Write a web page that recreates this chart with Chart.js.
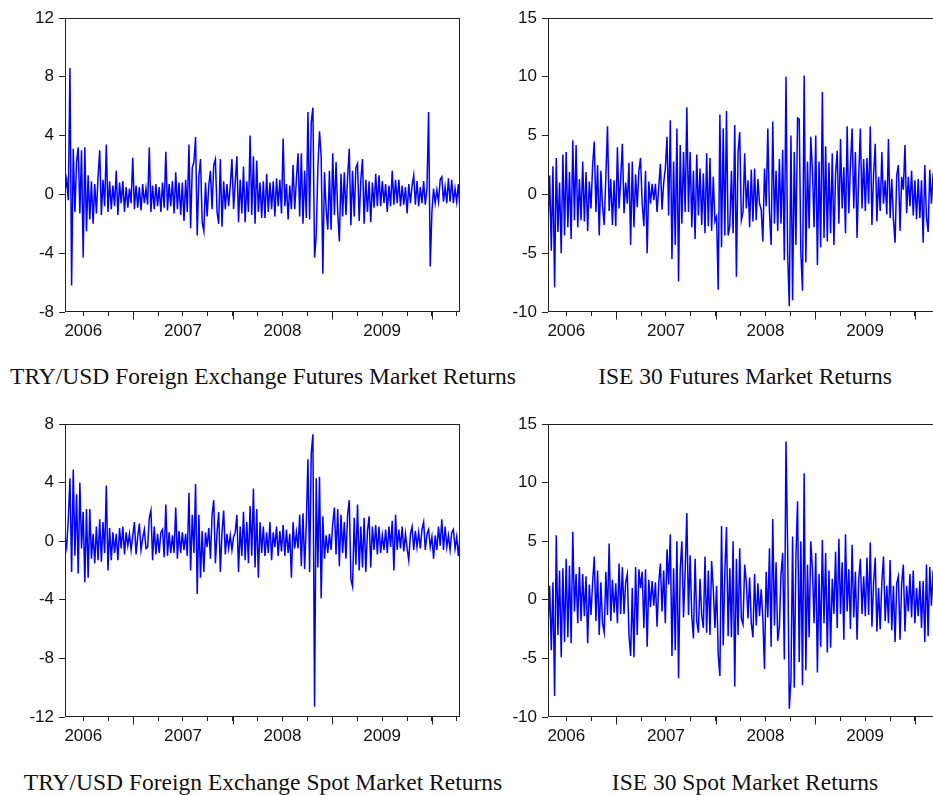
<!DOCTYPE html>
<html>
<head>
<meta charset="utf-8">
<script src="https://cdn.jsdelivr.net/npm/chart.js@4.4.0/dist/chart.umd.min.js"></script>
<style>
  html, body { margin: 0; padding: 0; background: #fff; overflow: hidden; width: 933px; height: 795px; }
  canvas { position: absolute; }
  .caption {
    position: absolute; white-space: nowrap; color: #111;
    font-family: "Liberation Serif", "Times New Roman", serif; font-size: 23.5px; line-height: 1;
    transform: translateX(-50%);
  }
</style>
</head>
<body>
<canvas id="fxFut"></canvas>
<canvas id="iseFut"></canvas>
<canvas id="fxSpot"></canvas>
<canvas id="iseSpot"></canvas>
<div class="caption" style="left:263px; top:365px">TRY/USD Foreign Exchange Futures Market Returns</div>
<div class="caption" style="left:745px; top:365px">ISE 30 Futures Market Returns</div>
<div class="caption" style="left:263px; top:771px">TRY/USD Foreign Exchange Spot Market Returns</div>
<div class="caption" style="left:745px; top:771px">ISE 30 Spot Market Returns</div>
<script>
// year labels on the time axis
const yearLabels = ['2006', '2007', '2008', '2009'];
// first and last observation (in years)
const sampleStart = 2006.316;
const sampleEnd = 2010.282;

// daily returns (%)
const fxFuturesReturns = [
  0.2, 1.0, -0.4, 8.6, -6.2, 3.1, -1.2, 2.2, 3.2, -1.3,
  3.0, -4.3, 3.2, -2.5, 1.3, -1.7, 0.9, -2.0, 0.7, -1.3,
  1.2, 3.0, -1.4, 1.0, -0.8, 3.4, -1.2, 0.9, -1.0, 0.6,
  -0.8, 1.6, -1.4, 0.8, -0.6, 0.9, -1.2, 0.5, -0.9, 0.4,
  -0.6, 2.5, -1.0, 0.6, -0.9, 0.5, -1.1, 0.7, -0.6, 0.4,
  -0.7, 3.2, -1.2, 0.6, -1.0, 0.7, -0.8, 0.5, -1.2, 0.8,
  -0.9, 2.9, -1.1, 0.7, -0.8, 0.9, -1.3, 1.5, -1.0, 0.8,
  -1.4, 0.8, -1.8, 1.0, -1.2, 3.4, -2.3, 1.8, 2.2, 3.9,
  -2.8, 1.2, 2.4, -1.9, -2.5, 0.8, -1.5, 0.6, 1.6, -1.0,
  2.0, 2.4, -1.2, -2.0, 2.4, -2.2, 0.9, -1.0, 0.7, -0.8,
  0.6, 2.4, -1.0, 0.8, 2.6, -1.9, 1.0, -1.3, 1.9, -1.9,
  0.9, -1.2, 4.0, -1.4, 2.6, -2.0, 2.3, -1.2, 0.8, -1.6,
  0.9, -1.6, 1.4, -1.2, 0.8, -1.0, 0.9, -1.5, 1.1, -0.8,
  1.0, -1.3, 3.8, -0.8, 0.7, -1.7, 0.6, -1.0, 2.0, -1.0,
  1.0, 2.8, -1.5, 2.8, -2.0, 1.6, -1.6, 5.6, -1.7, 4.9,
  5.9, -4.3, -2.8, 1.8, 4.3, 2.6, -5.4, 1.5, -1.0, -2.4,
  1.6, -2.4, 2.8, -1.4, 2.2, -1.2, -3.2, 1.4, -1.5, 1.5,
  -1.4, 1.2, 3.1, -2.1, 1.6, -1.5, 1.8, 2.1, -1.8, 1.0,
  2.4, -2.0, 1.0, -1.2, 0.9, -1.9, 0.8, -0.9, 1.4, -0.8,
  1.3, -0.8, 0.9, -0.6, 0.7, -1.2, 0.6, -0.8, 1.6, -0.7,
  1.0, -0.6, 1.0, -0.8, 0.6, -0.7, 0.5, -1.3, 0.7, -0.6,
  0.6, 1.3, -0.7, 0.9, -0.8, 0.5, -0.6, 0.9, -0.7, 0.4,
  5.6, -4.9, -1.2, 0.4, -0.6, 0.3, -0.5, 1.0, 1.2, -0.5,
  0.5, -0.6, 1.1, -0.5, 1.0, -0.6, 0.4, -0.5, 0.7, -1.1
];

const iseFuturesReturns = [
  -2.7, 1.6, -4.8, 2.4, -7.9, 3.1, -3.2, 1.0, -5.0, 3.4,
  -3.5, 3.6, -2.8, 1.9, -3.8, 4.6, -2.2, 4.2, -2.8, 1.3,
  -2.2, 2.8, -2.3, 1.9, -3.1, 1.1, -1.2, 2.5, 4.5, -1.5,
  2.5, -3.5, 2.0, -1.0, -2.6, 1.5, 5.8, -1.4, 1.3, -2.6,
  1.2, -2.7, 4.0, -1.2, 1.3, 4.3, -1.6, 1.0, -0.8, 2.7,
  -4.3, 2.8, -2.8, 1.7, -1.1, 2.0, 3.1, -0.8, -2.7, 2.0,
  -5.0, 1.1, -0.8, 0.9, -0.5, 0.9, -1.5, 0.6, 2.6, -1.3,
  1.0, 2.2, 4.9, -1.8, 6.3, -5.5, 2.8, -4.3, 5.6, -7.4,
  4.2, -2.5, 3.6, -1.5, 7.4, -1.5, 3.6, -2.8, 2.0, -3.8,
  3.4, -1.8, 2.2, -2.6, 1.8, -3.3, 3.5, -2.7, 3.1, -3.1,
  1.5, -2.3, -1.9, -8.1, 6.8, -4.5, 5.6, -3.5, 7.1, -3.5,
  -2.7, 2.0, -3.3, 5.9, -7.0, 3.6, 5.3, -2.2, -1.5, 3.5,
  -1.2, 1.2, -2.8, 2.1, -2.3, 2.2, -2.2, 1.3, -0.8, -1.3,
  -4.0, 2.2, -1.0, 5.6, -1.5, -4.3, 6.2, -2.5, 2.0, -3.1,
  3.0, -2.5, 3.8, -5.6, 10.0, -5.0, -9.5, 5.0, -9.0, 3.6,
  -4.3, 6.5, 6.4, -5.0, -8.2, 10.1, -5.8, 2.8, -2.9, 4.9,
  2.1, -2.8, 5.0, -6.0, 2.8, -4.5, 8.7, -3.7, 4.1, -4.0,
  2.7, -3.3, 3.5, -4.3, 1.8, 3.7, -2.5, 4.7, -1.2, 2.3,
  -3.3, 5.8, -1.6, 2.5, 5.6, -1.2, 3.6, -3.7, 1.5, 5.6,
  -1.2, 3.0, -1.4, 3.1, -0.8, 5.8, -2.6, 1.7, 4.3, -2.3,
  1.5, -1.4, 3.6, -0.8, 1.2, -1.7, 4.7, -2.0, 1.3, -2.1,
  -4.1, 1.6, 2.5, -3.1, 1.5, 0.4, 4.2, -1.6, 1.5, -1.0,
  2.0, -1.8, 1.2, -2.1, 1.3, -2.0, 1.2, -4.1, 2.5, -1.9,
  -3.2, 2.1, -0.8, 1.8
];

const fxSpotReturns = [
  0.3, -0.4, 1.5, 4.3, -2.1, 4.9, -1.0, 3.2, -2.2, 4.0,
  -0.5, 2.0, -2.8, 2.2, -2.5, 2.2, -1.2, 0.5, -1.5, 1.0,
  -1.3, 1.5, -1.4, 1.3, -0.8, 3.8, -2.0, 0.9, -1.3, 0.6,
  -0.8, 0.5, -1.3, 0.9, -0.5, 1.0, -0.9, 0.6, -0.3, 0.5,
  -0.6, 0.4, 1.3, -0.9, 0.3, 1.2, -0.6, 0.2, 0.8, -0.5,
  -0.4, 1.6, 2.1, -1.3, 1.0, -0.9, 0.5, -0.8, 0.6, 0.8,
  -1.1, 2.5, -1.0, 0.6, -0.8, 0.4, -0.8, 2.3, -1.2, 0.7,
  -0.8, 0.6, -0.6, 0.5, -1.0, 3.3, -2.0, 1.8, -0.8, 3.9,
  -3.6, 1.8, -2.5, 0.7, -2.1, 0.6, -0.4, 0.9, -1.2, 1.8,
  2.8, -1.5, 0.6, 2.0, -2.1, 0.6, 2.1, -0.9, 0.5, -0.5,
  0.4, -0.6, 0.3, 0.6, 1.8, -2.1, 1.0, -1.0, 2.0, -1.3,
  1.3, -1.5, 2.4, -1.0, 3.6, -1.8, 2.2, -2.5, 1.3, -0.8,
  1.0, -1.0, 0.6, -0.8, 1.3, -1.3, 0.6, -0.4, 1.0, -1.0,
  0.7, -0.7, 1.1, -1.0, 0.8, -0.8, 0.5, -2.5, 1.3, -0.5,
  0.6, -0.5, 1.8, -1.7, 1.9, -1.9, 1.2, 5.6, -2.1, 6.0,
  7.3, -11.3, 4.3, -1.8, 4.4, -3.9, 1.7, -1.2, 0.4, -0.8,
  0.5, -0.6, 1.2, 2.3, -0.9, 2.2, -1.7, 1.8, -0.8, 1.3,
  -1.2, 1.8, 2.8, -2.6, -3.1, 1.6, -1.6, 2.5, -2.0, 1.0,
  -1.8, 1.6, -2.1, 0.7, 1.7, -1.8, 1.0, -0.6, 1.1, -0.9,
  1.0, -0.8, 0.4, -0.6, 0.8, -0.8, 1.0, -0.4, 1.4, -2.0,
  1.8, -0.6, 0.8, -0.5, 1.0, -0.7, 0.5, -0.5, -1.3, 0.5,
  1.0, -0.6, 0.7, -0.4, 0.6, -0.5, 0.8, 1.3, -0.6, 0.5,
  0.8, -0.4, 0.3, -1.2, 0.4, -0.6, 1.0, -0.3, 1.5, -0.6,
  1.0, -0.4, 0.4, -0.6, 0.6, 0.8, -0.5, 0.3, -1.0, 0.3
];

const iseSpotReturns = [
  -2.4, 1.2, -4.3, 1.5, -8.2, 5.5, -3.0, 2.5, -4.9, 2.7,
  -3.6, 3.5, -3.2, 2.9, -3.7, 5.8, -1.0, 2.2, -2.0, 2.8,
  -1.8, 2.2, -1.4, 2.0, -3.7, 1.3, -1.3, 1.5, 3.7, -1.8,
  2.5, -3.0, 1.5, -2.0, -2.8, 2.4, -1.3, 4.8, -1.8, 1.7,
  -1.1, 1.4, -2.0, 3.1, -1.2, 2.8, -1.2, 1.5, 2.2, -3.0,
  -4.8, 1.0, -4.9, 2.8, -3.0, 2.6, 1.0, 2.4, -2.4, 2.6,
  -4.0, 1.7, -0.6, 1.6, -0.5, 1.5, -2.3, 1.4, 3.1, -1.0,
  2.5, -2.0, 4.3, 1.3, 5.6, -4.8, 2.7, -4.3, 5.0, -6.7,
  2.6, 5.0, -1.5, 2.5, 7.4, -1.3, 3.8, -1.4, -3.3, 3.5,
  -1.8, -2.8, 1.8, -1.3, -2.4, 3.7, -2.8, 2.5, -3.0, 3.3,
  1.0, -2.4, 1.2, -4.7, -6.5, 6.3, -3.9, 2.3, 6.2, -3.1,
  2.7, -3.2, 5.0, -7.4, 3.5, -3.0, 4.4, -1.6, -2.1, 3.0,
  1.5, -1.6, 1.9, -2.0, -3.2, 2.2, -2.2, 1.4, -1.4, 0.9,
  -1.6, -5.9, 2.4, -1.5, 4.4, -4.0, 6.9, -2.2, 3.2, -3.5,
  -2.3, 2.2, 4.0, -5.1, 13.5, 4.4, -9.3, -6.8, 5.4, -7.5,
  3.6, 8.4, -5.3, 5.0, -7.3, 10.8, -6.0, 3.0, -3.2, 5.0,
  2.6, -2.0, 4.0, -6.2, 2.2, -4.0, 5.1, -2.0, 4.0, -4.5,
  2.5, -4.1, 1.8, -1.2, 4.1, -2.4, 5.2, -1.2, 3.2, -3.4,
  5.6, -1.0, 2.6, -2.5, 4.7, -1.5, 2.4, -3.4, 1.7, 3.5,
  -1.2, 2.0, -1.4, 3.6, -1.3, 4.9, -2.3, 1.5, 3.6, -2.7,
  1.0, -2.5, 1.5, 3.7, -1.8, 1.2, -2.0, 3.4, -2.6, 1.2,
  -3.6, 1.4, 2.0, -3.4, 1.4, 3.0, -2.7, 1.2, -1.0, 2.2,
  -1.5, 2.5, -2.0, 1.0, -1.4, 1.6, -2.4, 1.6, -3.6, 3.0,
  -3.1, 2.8, -0.5, 2.5, -0.7
];

// evenly spaced daily observations
const stepYears = (sampleEnd - sampleStart) / (fxFuturesReturns.length - 1);
function toPoints(values) {
  return values.map((v, i) => ({ x: sampleStart + i * stepYears, y: v }));
}

// quarter ticks, with the year label in the middle of each year
const quarterTicks = [];
yearLabels.forEach(y => {
  [0.5, 0.75, 1, 1.25].forEach(q => quarterTicks.push(+y + q));
});

const tickFont = { family: "'Liberation Sans', Arial, sans-serif", size: 17 };

const framePlugin = {
  id: 'frame',
  afterDraw(chart) {
    const { ctx, chartArea: a, scales } = chart;
    ctx.save();
    ctx.strokeStyle = '#222';
    ctx.lineWidth = 1;
    const l = Math.round(a.left) + 0.5, t = Math.round(a.top) + 0.5;
    const r = Math.round(a.right) - 0.5, b = Math.round(a.bottom) - 0.5;
    ctx.strokeRect(l, t, r - l, b - t);
    // longer ticks at the year boundaries
    yearLabels.forEach(y => {
      const px = Math.round(scales.x.getPixelForValue(+y + 1)) + 0.5;
      ctx.beginPath();
      ctx.moveTo(px, b);
      ctx.lineTo(px, b + 8);
      ctx.stroke();
    });
    ctx.restore();
  }
};

function makePanel(id, values, pos, yMin, yMax, yStep) {
  const canvas = document.getElementById(id);
  canvas.width = 470;
  canvas.height = pos.height;
  canvas.style.left = pos.left + 'px';
  canvas.style.top = pos.top + 'px';
  canvas.style.width = '470px';
  canvas.style.height = pos.height + 'px';
  return new Chart(canvas, {
    type: 'line',
    data: {
      datasets: [{
        data: toPoints(values),
        borderColor: '#0000ff',
        borderWidth: 1.5,
        pointRadius: 0,
        tension: 0
      }]
    },
    options: {
      responsive: false,
      animation: false,
      devicePixelRatio: 1,
      layout: { padding: { top: 18, right: 10, left: 0, bottom: 0 } },
      plugins: { legend: { display: false }, tooltip: { enabled: false } },
      scales: {
        x: {
          type: 'linear',
          min: sampleStart,
          max: sampleEnd,
          afterFit: s => { s.height = 33; },
          afterBuildTicks: s => { s.ticks = quarterTicks.map(v => ({ value: v })); },
          border: { display: false },
          grid: { drawOnChartArea: false, tickLength: 4, tickColor: '#222', color: '#222' },
          ticks: {
            autoSkip: false, maxRotation: 0, padding: 5, color: '#111', font: tickFont,
            callback: v => (v % 1 === 0.5 ? String(Math.floor(v)) : '')
          }
        },
        y: {
          min: yMin,
          max: yMax,
          afterFit: s => { s.width = 65; },
          border: { display: false },
          grid: { drawOnChartArea: false, tickLength: 6, tickColor: '#222', color: '#222' },
          ticks: { stepSize: yStep, padding: 5, color: '#111', font: tickFont }
        }
      }
    },
    plugins: [framePlugin]
  });
}

makePanel('fxFut', fxFuturesReturns, { left: 0, top: 0, height: 345 }, -8, 12, 4);
makePanel('iseFut', iseFuturesReturns, { left: 483, top: 0, height: 345 }, -10, 15, 5);
makePanel('fxSpot', fxSpotReturns, { left: 0, top: 406, height: 344 }, -12, 8, 4);
makePanel('iseSpot', iseSpotReturns, { left: 483, top: 406, height: 344 }, -10, 15, 5);
</script>
</body>
</html>
